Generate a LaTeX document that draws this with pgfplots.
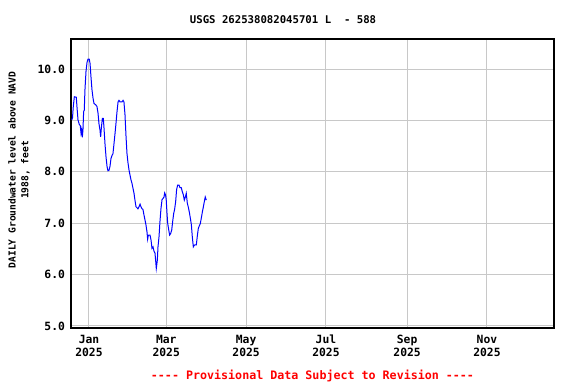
\documentclass[border=0pt]{standalone}
\usepackage{fontspec}
\setmainfont{DejaVu Sans Mono}[Ligatures=TeXOff]
\usepackage{pgfplots}
\pgfplotsset{compat=1.18}
\definecolor{gridgray}{RGB}{200,200,200}
\begin{document}
\begin{tikzpicture}
\begin{axis}[
  scale only axis,
  width=362.25pt, height=216.75pt,
  at={(0,0)}, anchor=south west,
  xmin=-13.75, xmax=355.2,
  ymin=4.961, ymax=10.584,
  xtick={0,59,120,181,243,304},
  xticklabels={Jan\\2025,Mar\\2025,May\\2025,Jul\\2025,Sep\\2025,Nov\\2025},
  ytick={5,6,7,8,9,10},
  /pgf/number format/fixed,
  /pgf/number format/fixed zerofill,
  /pgf/number format/precision=1,
  /pgf/number format/assume math mode=true,
  xticklabel style={align=center, font=\fontsize{8.5}{9.75}\selectfont\bfseries, yshift=-2pt},
  yticklabel style={font=\fontsize{8.5}{10}\selectfont\bfseries, xshift=-1pt},
  major tick length=0pt,
  grid=major,
  major grid style={gridgray, line width=0.75pt},
  axis line style={black, line width=0.9pt},
  title={USGS 262538082045701 L\ \ - 588},
  title style={font=\fontsize{8}{9}\selectfont\bfseries, at={(axis description cs:0.439,1)}, anchor=base, yshift=5.5pt},
  ylabel={DAILY Groundwater level above NAVD\\1988, feet},
  ylabel style={font=\fontsize{7.2}{9.5}\selectfont\bfseries, align=center, at={(axis description cs:-0.1077,0.547)}, anchor=center},
  xlabel={\textcolor{red}{---- Provisional Data Subject to Revision ----}},
  xlabel style={font=\fontsize{8.75}{10}\selectfont\bfseries, at={(axis description cs:0.5,0)}, anchor=base, yshift=-38.5pt},
]
\addplot[blue, line width=0.75pt, mark=none] coordinates {
(-13.2,9.01) (-12.6,9.05) (-12,9.27) (-11.2,9.46) (-9.7,9.45) (-9.2,9.27) (-8.4,9.01) (-7.4,8.92) (-6.7,8.9) (-6.1,8.75) (-5.6,8.82) (-5.1,8.67) (-4.6,8.82) (-4.1,9.17) (-3.6,9.2) (-3.1,9.59) (-2.3,9.95) (-1.5,10.13) (-0.8,10.19) (0.2,10.19) (0.8,10.11) (1.5,9.85) (2.3,9.59) (3.1,9.43) (3.8,9.33) (5.3,9.30) (6.1,9.27) (6.9,9.14) (7.6,8.94) (8.4,8.81) (8.9,8.68) (9.4,8.84) (10.2,9.04) (10.9,9.04) (11.4,8.88) (12.2,8.55) (13,8.29) (13.8,8.10) (14.5,8.02) (15.3,8.03) (16,8.1) (16.8,8.26) (17.6,8.32) (18.3,8.35) (19.1,8.55) (19.9,8.75) (20.6,8.94) (21.4,9.17) (22.2,9.36) (22.9,9.39) (23.7,9.36) (24.4,9.36) (25.2,9.36) (26,9.39) (26.7,9.36) (27.5,9.11) (28.3,8.68) (29,8.36) (29.8,8.17) (30.6,8.03) (31.3,7.94) (32.1,7.84) (32.8,7.78) (33.6,7.68) (34.4,7.58) (35.1,7.45) (35.9,7.32) (36.7,7.30) (37.4,7.28) (38.2,7.32) (39,7.37) (39.7,7.32) (40.5,7.28) (41.2,7.27) (42,7.16) (42.8,7.06) (43.5,6.97) (44.3,6.83) (44.8,6.69) (45.3,6.76) (45.8,6.77) (46.6,6.77) (47.4,6.67) (48.1,6.51) (48.9,6.54) (49.7,6.45) (50.4,6.42) (50.9,6.28) (51.4,6.12) (52.2,6.28) (52.7,6.54) (53.5,6.74) (54.2,7.03) (55,7.29) (55.8,7.46) (56.5,7.48) (57.3,7.51) (57.8,7.59) (58.5,7.55) (59,7.45) (59.6,7.19) (60.1,7.0) (60.9,6.87) (61.6,6.77) (62.4,6.8) (63.2,6.87) (63.9,7.03) (64.7,7.19) (65.4,7.27) (66.2,7.42) (66.9,7.65) (67.7,7.74) (68.8,7.74) (69.5,7.69) (70.5,7.69) (71.3,7.61) (72.1,7.55) (72.8,7.45) (73.6,7.51) (74.3,7.58) (75.1,7.39) (75.9,7.31) (76.6,7.22) (77.4,7.10) (78.2,6.97) (78.9,6.74) (79.7,6.54) (80.4,6.57) (81.2,6.58) (82,6.58) (82.7,6.74) (83.5,6.90) (84.3,6.95) (85,6.99) (85.8,7.10) (86.6,7.22) (87.3,7.31) (88.1,7.42) (88.8,7.51) (89.6,7.45)
};
\end{axis}
\path[use as bounding box] (-53.25pt,-42pt) rectangle (378.75pt,246pt);
\end{tikzpicture}
\end{document}
